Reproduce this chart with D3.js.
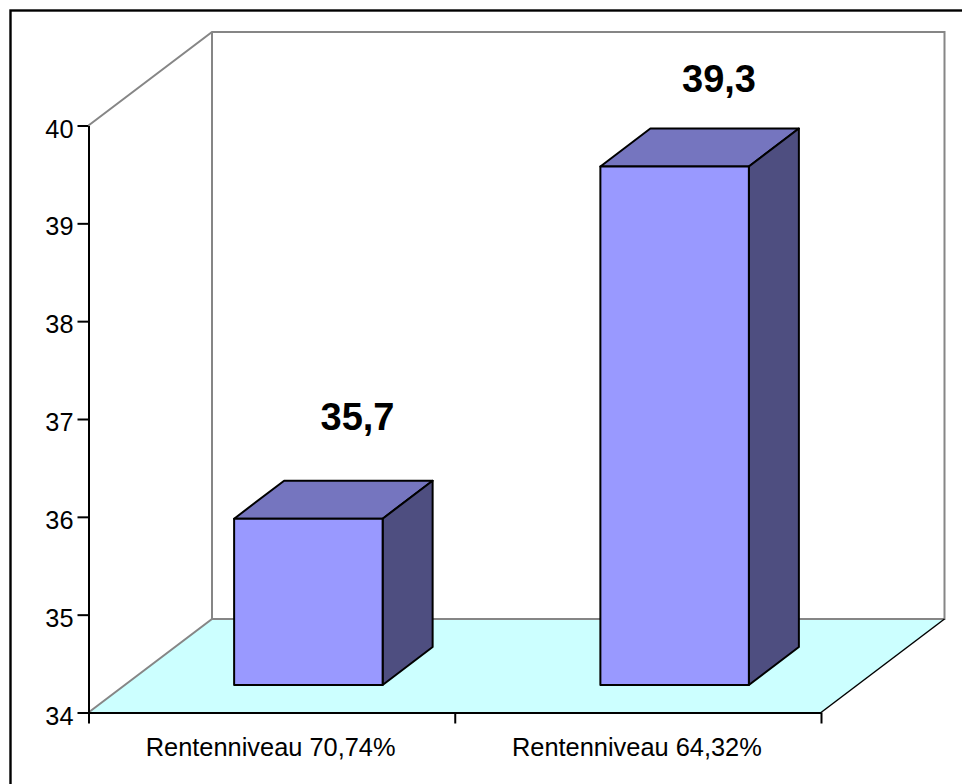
<!DOCTYPE html>
<html><head><meta charset="utf-8">
<script src="https://cdn.jsdelivr.net/npm/d3@7/dist/d3.min.js"></script>
<style>html,body{margin:0;padding:0;background:#fff}svg{display:block}text{font-family:"Liberation Sans",Arial,sans-serif;fill:#000}</style>
</head><body><script>
const categories = ["Rentenniveau 70,74%", "Rentenniveau 64,32%"];
const values = [35.7, 39.3];
const valueLabels = ["35,7", "39,3"];
const yTicks = [34, 35, 36, 37, 38, 39, 40];

const W = 962, H = 784;
const svg = d3.select("body").append("svg").attr("width", W).attr("height", H);
svg.append("rect").attr("x", 10.5).attr("y", 10.5).attr("width", 1000).attr("height", 820)
  .attr("fill", "#fff").attr("stroke", "#000").attr("stroke-width", 2.4);

const x0 = 88.5, x1 = 821, yB = 712.5, yT = 125.5, dx = 123.5, dy = -93.5;
const y = d3.scaleLinear().domain([34, 40]).range([yB, yT]);
const x = d3.scaleBand().domain(categories).range([x0, x1]).padding(0);
const line = d3.line();

svg.append("path").attr("d", line([[x0, yB], [x0 + dx, yB + dy], [x1 + dx, yB + dy], [x1, yB]]) + "Z").attr("fill", "#ccffff");
svg.append("path").attr("fill", "none").attr("stroke", "#868686").attr("stroke-width", 2)
  .attr("d", line([[x0, yT], [x0 + dx, yT + dy], [x1 + dx, yT + dy], [x1 + dx, yB + dy], [x0 + dx, yB + dy], [x0, yB]]));
svg.append("path").attr("fill", "none").attr("stroke", "#868686").attr("stroke-width", 2)
  .attr("d", line([[x0 + dx, yT + dy], [x0 + dx, yB + dy]]));
svg.append("path").attr("fill", "none").attr("stroke", "#000").attr("stroke-width", 1.5)
  .attr("d", line([[x1, yB], [x1 + dx, yB + dy]]));

const barW = 148.5, offX = 36.75, offY = -27.5, depthX = 50, depthY = -38;
// value-label placement in the reference is not exactly parallel to the bar tops
const labelY = d3.scaleLinear().domain(d3.extent(values)).range([430, 92]);
const labelX = d3.scalePoint().domain(categories).range([357.5, 719]);

const bars = svg.selectAll("g.bar").data(categories).join("g").attr("class", "bar");
bars.each(function (c, i) {
  const g = d3.select(this);
  const l = x(c) + x.bandwidth() / 2 + offX - barW / 2, r = l + barW;
  const b = yB + offY, t = y(values[i]) + offY;
  const face = (pts, fill) => g.append("path").attr("d", line(pts) + "Z").attr("fill", fill)
    .attr("stroke", "#000").attr("stroke-width", 2).attr("stroke-linejoin", "round");
  face([[l, t], [l + depthX, t + depthY], [r + depthX, t + depthY], [r, t]], "#7575bf");
  face([[r, t], [r + depthX, t + depthY], [r + depthX, b + depthY], [r, b]], "#4e4e80");
  face([[l, t], [r, t], [r, b], [l, b]], "#9999ff");
  g.append("text").attr("x", labelX(c)).attr("y", labelY(values[i]))
    .attr("text-anchor", "middle").attr("font-weight", "bold").attr("font-size", 38).text(valueLabels[i]);
});

const yAxis = d3.axisLeft(y).tickValues(yTicks).tickSize(11).tickSizeOuter(0).tickPadding(4).tickFormat(d3.format("d"));
const gy = svg.append("g").attr("transform", `translate(${x0},0)`).call(yAxis);
gy.selectAll("path,line").attr("stroke", "#000").attr("stroke-width", 2);
gy.selectAll("text").attr("font-size", 25.3).attr("dy", "0.46em").attr("font-family", '"Liberation Sans",Arial,sans-serif');

const xEdges = d3.axisBottom(d3.scaleLinear().domain([0, categories.length]).range([x0, x1]))
  .tickValues(d3.range(categories.length + 1)).tickSize(11).tickSizeOuter(0).tickFormat("");
const gx = svg.append("g").attr("transform", `translate(0,${yB})`).call(xEdges);
gx.selectAll("path,line").attr("stroke", "#000").attr("stroke-width", 2);

svg.selectAll("text.cat").data(categories).join("text").attr("class", "cat")
  .attr("x", c => x(c) + x.bandwidth() / 2 - 1).attr("y", 755.5)
  .attr("text-anchor", "middle").attr("font-size", 25.4).text(c => c);
</script></body></html>
